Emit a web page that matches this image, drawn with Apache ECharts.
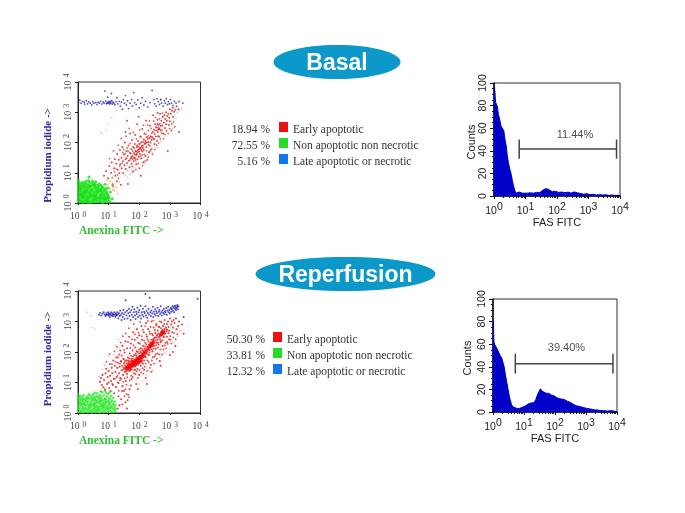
<!DOCTYPE html>
<html>
<head>
<meta charset="utf-8">
<script src="https://cdn.jsdelivr.net/npm/echarts@6/dist/echarts.min.js"></script>
<style>
html,body{margin:0;padding:0;background:#fff}
#main{width:685px;height:513px}
</style>
</head>
<body>
<div id="main"></div>
<script>
// all scatter and histogram x/y are in decades (10^n)
var logMinorTicks = [.3,.48,.6,.7,.78,.85,.9,.95,1.3,1.48,1.6,1.7,1.78,1.85,1.9,1.95,2.3,2.48,2.6,2.7,2.78,2.85,2.9,2.95,3.3,3.48,3.6,3.7,3.78,3.85,3.9,3.95];

var legendLabels = ['Early apoptotic', 'Non apoptotic non necrotic', 'Late apoptotic or necrotic'];
var basalPct = ['18.94 %', '72.55 %', '5.16 %'];
var reperfPct = ['50.30 %', '33.81 %', '12.32 %'];
var basalMarker = [[.8,33],[.8,50],[.8,41.5],[3.89,41.5],[3.89,50],[3.89,33]];
var reperfMarker = [[.72,34],[.72,51.5],[.72,42.8],[3.87,42.8],[3.87,51.5],[3.87,34]];

var basalHist = [[0,0],[.01,97],[.03,92],[.05,83],[.08,84],[.11,79],[.14,72],[.18,68],[.22,62],[.27,62],[.31,58],[.35,50],[.39,44],[.42,36],[.46,29],[.5,24],[.54,20],[.58,14],[.62,9],[.66,5],[.7,2.5],[.75,2],[.8,3.5],[.84,2],[.9,2.5],[.96,1.8],[1.05,2.5],[1.15,2.8],[1.25,2.5],[1.35,3.2],[1.45,3],[1.52,4.5],[1.58,5.5],[1.63,6.5],[1.67,8],[1.72,6],[1.78,5],[1.85,3.8],[1.95,4.2],[2.05,3.2],[2.15,3.5],[2.25,3],[2.35,3.4],[2.45,2.6],[2.55,3.6],[2.65,2.8],[2.75,2.2],[2.85,1.6],[2.95,2],[3.05,1.2],[3.15,1.5],[3.25,.9],[3.35,1.2],[3.45,.8],[3.55,1.1],[3.65,.5],[3.75,.9],[3.85,.4],[3.95,.7],[4,0]];
var reperfHist = [[0,0],[.01,80],[.03,62],[.05,60],[.09,58],[.13,56],[.18,53],[.23,50],[.28,48],[.32,44],[.36,40],[.4,33],[.44,27],[.48,21],[.52,15],[.56,10],[.6,6.5],[.65,4.5],[.7,3.5],[.78,3],[.85,3.2],[.93,4],[1,4.8],[1.08,6],[1.16,7.5],[1.24,8],[1.32,8.2],[1.38,11],[1.43,15],[1.48,18],[1.53,20.5],[1.58,18.5],[1.64,17],[1.72,16.5],[1.8,16.5],[1.88,15],[1.96,14.5],[2.04,13],[2.12,12],[2.2,11.5],[2.3,11],[2.4,9.5],[2.5,8.5],[2.58,7],[2.68,5.5],[2.78,5],[2.9,4],[3.02,3.2],[3.15,2.6],[3.28,2],[3.42,1.5],[3.56,1.2],[3.7,.9],[3.85,1.2],[3.95,.5],[4,0]];

var basalGreen = [[.01,.05],[.02,.14],[.01,.23],[.03,.31],[.01,.42],[.02,.53],[.01,.64],[.02,.74],[.06,.03],[.07,.11],[.05,.2],[.08,.27],[.06,.36],[.09,.46],[.07,.57],[.06,.66],[.11,.06],[.13,.16],[.12,.24],[.14,.33],[.11,.41],[.13,.5],[.12,.59],[.17,.02],[.18,.1],[.16,.18],[.19,.29],[.17,.38],[.2,.47],[.18,.55],[.16,.63],[.23,.06],[.24,.14],[.22,.23],[.25,.32],[.23,.41],[.26,.52],[.24,.6],[.29,.03],[.31,.11],[.28,.19],[.3,.27],[.33,.36],[.29,.44],[.32,.54],[.3,.63],[.36,.07],[.35,.15],[.38,.24],[.36,.33],[.39,.42],[.37,.5],[.35,.59],[.38,.69],[.42,.02],[.44,.1],[.41,.18],[.45,.29],[.43,.37],[.46,.47],[.42,.56],[.45,.64],[.49,.06],[.5,.15],[.48,.22],[.52,.31],[.5,.4],[.53,.49],[.49,.58],[.51,.66],[.56,.03],[.57,.12],[.55,.2],[.58,.27],[.56,.36],[.59,.45],[.57,.54],[.55,.62],[.62,.07],[.64,.16],[.61,.25],[.63,.33],[.65,.41],[.62,.51],[.64,.6],[.68,.03],[.7,.1],[.67,.19],[.71,.28],[.69,.37],[.72,.46],[.68,.55],[.7,.63],[.75,.06],[.76,.15],[.74,.23],[.77,.32],[.75,.41],[.78,.5],[.76,.58],[.81,.02],[.83,.11],[.8,.19],[.84,.27],[.82,.36],[.85,.45],[.81,.53],[.88,.06],[.89,.14],[.87,.23],[.9,.31],[.88,.4],[.91,.48],[.94,.04],[.95,.12],[.93,.2],[.96,.29],[.94,.37],[1,.08],[1.02,.17],[.99,.26],[1.04,.03],[.26,.72],[.14,.68],[.34,.74],[.47,.73],[.22,.68],[.58,.7],[.12,.04],[.34,.02],[.4,.3],[.15,.25],[.27,.38],[.6,.15],[.72,.16],[.53,.22],[.21,.35],[.08,.5],[.44,.45],[.33,.2],[.66,.48],[.79,.27],[.86,.16],[.97,.18],[.28,.1],[.2,.56],[.11,.3],[.05,.45],[.43,.26],[.52,.1],[.74,.41],[.62,.38],[.39,.55],[.18,.2],[.3,.46],[.54,.58],[.36,.86],[.88,.62],[1.06,.36],[.98,.5],[1.12,.14]];
var basalRed = [[.85,.9],[.92,1.05],[.98,.82],[1.02,1.22],[1.08,1.0],[1.1,1.34],[1.13,.62],[1.15,.55],[1.18,1.15],[1.2,1.45],[1.22,.9],[1.25,1.3],[1.27,.72],[1.28,1.62],[1.3,1.1],[1.33,1.43],[1.35,.98],[1.37,1.75],[1.38,1.28],[1.4,.6],[1.42,1.5],[1.43,1.15],[1.45,1.85],[1.47,1.38],[1.48,.98],[1.5,1.6],[1.52,1.25],[1.53,2.0],[1.55,1.45],[1.56,1.12],[1.58,1.72],[1.6,1.32],[1.6,2.72],[1.62,1.55],[1.63,.63],[1.65,1.9],[1.66,1.4],[1.68,1.18],[1.7,1.65],[1.7,2.3],[1.72,1.48],[1.74,1.78],[1.75,1.3],[1.76,2.08],[1.78,1.55],[1.8,1.05],[1.8,1.85],[1.82,1.38],[1.83,1.65],[1.85,1.95],[1.86,1.48],[1.87,2.25],[1.88,1.72],[1.9,1.28],[1.9,1.58],[1.92,1.85],[1.93,2.6],[1.94,1.45],[1.95,1.68],[1.96,2.05],[1.98,1.52],[1.99,1.78],[2.0,1.15],[2.0,1.95],[2.02,1.62],[2.03,2.2],[2.05,1.82],[2.05,.9],[2.07,1.48],[2.08,2.02],[2.1,1.7],[2.1,2.45],[2.12,1.9],[2.13,1.35],[2.15,2.1],[2.15,1.75],[2.17,2.3],[2.18,1.95],[2.2,1.55],[2.2,2.05],[2.22,2.72],[2.23,1.85],[2.25,2.18],[2.26,1.42],[2.28,2.12],[2.3,1.92],[2.3,2.4],[2.32,1.68],[2.34,2.15],[2.35,2.55],[2.37,2.0],[2.38,2.2],[2.4,1.78],[2.42,2.18],[2.44,2.35],[2.45,2.9],[2.46,2.12],[2.48,2.42],[2.5,1.95],[2.5,2.28],[2.52,2.6],[2.54,2.2],[2.55,2.4],[2.57,2.5],[2.58,2.05],[2.6,2.35],[2.6,2.75],[2.62,2.58],[2.64,2.48],[2.65,2.2],[2.67,2.62],[2.68,2.95],[2.7,2.4],[2.72,2.72],[2.75,2.55],[2.77,2.85],[2.78,2.3],[2.8,2.65],[2.82,2.9],[2.84,2.48],[2.85,2.78],[2.87,3.0],[2.88,2.6],[2.9,2.72],[2.92,2.88],[2.93,1.72],[2.95,2.95],[2.96,2.58],[2.98,2.82],[3.0,3.1],[3.0,2.7],[3.03,2.95],[3.05,2.4],[3.07,3.05],[3.1,3.15],[3.1,2.85],[3.14,3.02],[3.18,3.08],[3.22,3.2],[3.28,3.1],[3.3,2.35],[1.98,2.85],[2.6,2.98],[1.55,2.35],[1.9,1.7],[2.0,1.7],[2.02,1.82],[2.07,1.75],[1.85,1.6],[1.92,1.62],[1.96,1.75],[2.08,1.88],[2.12,1.82],[1.78,1.45],[1.83,1.5],[1.75,1.52],[2.2,1.98],[2.25,2.0],[2.3,2.02],[2.4,2.08],[2.62,2.42],[2.66,2.45],[2.7,2.55]];
var basalRedWide = [[1.03,1.47],[1.16,1.72],[1.31,1.91],[1.41,2.13],[1.46,1.67],[1.57,2.21],[1.61,1.82],[1.67,2.47],[1.71,1.97],[1.77,1.21],[1.81,2.33],[1.89,1.11],[1.91,2.12],[1.97,1.31],[2.01,2.41],[2.06,2.18],[2.11,1.23],[2.14,2.57],[2.19,1.38],[2.21,2.27],[2.27,2.58],[2.29,1.52],[2.33,2.71],[2.36,1.72],[2.39,2.47],[2.43,1.63],[2.47,2.71],[2.51,1.77],[2.53,2.83],[2.56,1.91],[2.59,2.62],[2.63,1.98],[2.66,2.79],[2.69,2.12],[2.73,2.31],[2.76,2.97],[2.79,2.13],[2.83,2.27],[2.89,2.38],[2.94,2.3],[2.99,2.46],[3.06,2.62],[3.12,2.68],[3.16,2.52],[1.24,1.12],[1.36,1.23],[1.44,1.31],[1.49,1.77],[1.54,1.63],[1.59,1.48],[1.64,1.71],[1.69,1.42],[1.73,1.63],[1.79,1.72],[1.84,1.81],[1.88,1.42],[1.93,1.91],[1.97,1.87],[2.03,1.55],[2.04,1.97],[2.09,1.59],[2.13,2.01],[2.16,1.61],[2.24,1.72],[2.31,2.22],[2.35,1.89],[2.41,2.31],[2.49,2.11],[2.54,2.51],[2.61,2.21],[2.74,2.41],[1.12,.84],[1.19,1.03],[1.29,.93],[1.32,.81]];
var basalOrange = [[.98,.62],[1.05,.72],[1.1,.58],[1.14,.45],[1.18,.4],[1.05,.48],[1.25,.52],[.95,.75],[1.3,.3],[1.35,.7],[1.9,3.1],[1.75,3.2]];
var basalPale = [[.92,2.4],[.98,2.62],[.78,2.3],[.75,2.35],[1.1,2.8],[1.25,3.05],[1.55,.9],[1.62,.85],[1.7,.95],[1.78,1.0],[1.85,1.1],[1.95,1.3],[2.05,1.45],[2.15,1.5],[2.25,1.6],[2.35,1.75],[3.15,2.9],[3.2,2.8],[3.25,2.98],[3.3,3.05],[3.38,3.12],[1.61,1.07],[1.83,1.19],[1.74,1.12],[2.17,1.31],[2.28,1.43],[2.44,1.59],[2.58,1.83],[2.71,2.03],[2.86,2.22],[3.08,2.47]];
var basalBlue = [[.02,3.32],[.06,3.4],[.1,3.3],[.15,3.36],[.2,3.33],[.22,3.27],[.27,3.38],[.31,3.28],[.35,3.34],[.4,3.3],[.45,3.24],[.48,3.35],[.52,3.3],[.58,3.32],[.62,3.26],[.66,3.33],[.7,3.3],[.74,3.36],[.78,3.27],[.82,3.34],[.85,3.3],[.88,3.7],[.9,3.37],[.92,3.28],[.95,3.33],[.97,3.5],[.99,3.3],[1.01,3.36],[1.03,3.27],[1.05,3.33],[1.07,3.3],[1.09,3.62],[1.1,3.38],[1.12,3.27],[1.14,3.33],[1.17,3.3],[1.2,3.25],[1.24,3.35],[1.27,3.48],[1.3,3.28],[1.35,3.36],[1.38,3.2],[1.42,3.33],[1.45,3.1],[1.48,3.42],[1.52,3.3],[1.55,3.55],[1.58,3.24],[1.62,3.38],[1.65,3.12],[1.7,3.3],[1.75,3.42],[1.78,3.2],[1.82,3.65],[1.85,3.32],[1.9,3.26],[1.95,3.4],[2,3.15],[2.05,3.3],[2.1,3.48],[2.15,3.24],[2.2,3.36],[2.28,3.18],[2.35,3.32],[2.42,3.72],[2.48,3.42],[2.5,3.28],[2.55,3.2],[2.58,3.45],[2.62,3.35],[2.66,3.26],[2.7,3.42],[2.73,3.3],[2.78,3.2],[2.82,3.38],[2.85,3.3],[2.88,3.45],[2.92,3.25],[2.95,3.35],[2.98,3.28],[3.02,3.42],[3.05,3.3],[3.1,3.22],[3.15,3.36],[3.2,3.3],[3.3,3.35],[3.42,3.3],[2.7,3.42],[1.02,3.32],[1.06,3.36],[.96,3.3]];

var reperfGreen = [[.01,.04],[.02,.13],[.01,.22],[.03,.31],[.01,.41],[.02,.52],[.01,.62],[.06,.03],[.07,.1],[.05,.18],[.08,.27],[.06,.37],[.09,.46],[.07,.56],[.11,.05],[.13,.15],[.12,.25],[.14,.33],[.11,.42],[.13,.52],[.17,.02],[.18,.12],[.16,.2],[.19,.3],[.17,.39],[.2,.47],[.18,.58],[.24,.06],[.23,.16],[.26,.24],[.22,.34],[.25,.43],[.27,.52],[.31,.03],[.3,.11],[.33,.2],[.29,.29],[.32,.37],[.3,.47],[.34,.57],[.37,.07],[.39,.17],[.36,.26],[.4,.34],[.38,.44],[.41,.53],[.37,.61],[.44,.02],[.46,.12],[.43,.21],[.47,.3],[.45,.39],[.44,.49],[.47,.58],[.51,.06],[.52,.15],[.5,.26],[.54,.33],[.51,.43],[.53,.52],[.5,.62],[.58,.03],[.57,.11],[.6,.2],[.56,.29],[.59,.38],[.57,.47],[.6,.56],[.64,.07],[.66,.16],[.63,.24],[.67,.34],[.64,.42],[.66,.52],[.63,.65],[.7,.02],[.72,.12],[.7,.2],[.73,.3],[.71,.38],[.74,.48],[.71,.58],[.77,.06],[.79,.15],[.76,.25],[.8,.33],[.78,.43],[.76,.53],[.79,.68],[.84,.03],[.85,.11],[.83,.2],[.87,.29],[.84,.38],[.86,.47],[.84,.58],[.91,.07],[.92,.17],[.9,.25],[.93,.34],[.91,.44],[.94,.54],[.92,.66],[.98,.04],[.99,.12],[.97,.22],[1,.3],[.98,.4],[1.01,.5],[.99,.62],[1.05,.07],[1.06,.16],[1.04,.26],[1.07,.35],[1.05,.45],[1.08,.56],[1.11,.03],[1.13,.13],[1.11,.22],[1.14,.31],[1.12,.41],[1.15,.5],[1.18,.08],[1.19,.17],[1.17,.27],[1.2,.37],[1.22,.05],[1.23,.14],[1.22,.25],[.15,.08],[.21,.26],[.28,.38],[.35,.12],[.42,.28],[.48,.46],[.55,.2],[.62,.33],[.68,.1],[.75,.39],[.82,.26],[.89,.46],[.95,.14],[1.02,.36],[1.09,.2],[.1,.32],[.04,.47],[.16,.44],[.33,.49],[.52,.24],[.69,.47],[.85,.19],[1,.18],[.61,.11],[.43,.06],[.25,.14],[.78,.22],[.9,.36],[.55,.43],[.39,.25],[.74,.71],[.88,.72],[1.03,.68],[.56,.66]];
var reperfRed = [[.72,1.02],[.75,1.15],[.78,.92],[.8,1.25],[.83,.84],[.85,1.08],[.88,.78],[.9,1.3],[.92,1.45],[.95,.95],[.97,1.18],[1,1.0],[1,1.38],[1.02,.82],[1.04,1.6],[1.05,1.22],[1.07,.72],[1.08,1.05],[1.1,1.48],[1.12,1.3],[1.14,.92],[1.15,1.72],[1.17,1.12],[1.18,.65],[1.2,1.55],[1.22,1.35],[1.24,.85],[1.25,1.82],[1.26,1.18],[1.28,1.48],[1.3,1.0],[1.3,1.65],[1.32,.55],[1.34,1.3],[1.35,1.92],[1.36,1.52],[1.38,1.15],[1.38,2.05],[1.4,1.7],[1.41,.45],[1.42,1.4],[1.44,1.55],[1.45,.88],[1.45,2.2],[1.47,1.25],[1.48,1.78],[1.49,1.48],[1.5,1.62],[1.5,.72],[1.52,1.98],[1.53,1.35],[1.54,1.55],[1.55,2.35],[1.56,1.05],[1.57,1.72],[1.58,1.5],[1.59,1.62],[1.6,1.28],[1.6,2.12],[1.62,1.55],[1.63,1.82],[1.64,.6],[1.65,1.45],[1.66,1.7],[1.67,2.5],[1.68,1.58],[1.69,1.95],[1.7,1.38],[1.7,1.68],[1.72,1.55],[1.73,2.28],[1.74,1.78],[1.75,1.12],[1.75,1.62],[1.77,1.7],[1.78,2.05],[1.79,1.52],[1.8,1.85],[1.8,2.65],[1.81,1.62],[1.82,1.72],[1.83,1.3],[1.84,1.9],[1.85,2.4],[1.85,1.68],[1.86,1.55],[1.87,2.15],[1.88,1.78],[1.89,1.65],[1.9,.95],[1.9,1.88],[1.91,1.72],[1.92,2.75],[1.93,1.82],[1.94,1.45],[1.95,2.0],[1.95,1.75],[1.96,1.65],[1.97,2.3],[1.98,1.85],[1.99,1.78],[2,1.25],[2,1.95],[2,2.55],[2.02,1.88],[2.03,1.72],[2.04,2.12],[2.05,1.82],[2.05,1.55],[2.06,1.98],[2.07,2.85],[2.08,1.9],[2.09,2.4],[2.1,1.78],[2.1,2.05],[2.11,1.95],[2.12,1.62],[2.13,2.2],[2.14,1.9],[2.15,2.02],[2.15,2.65],[2.16,1.42],[2.17,1.98],[2.18,2.1],[2.19,1.85],[2.2,2.3],[2.2,2.05],[2.21,1.15],[2.22,2.95],[2.23,1.95],[2.24,2.15],[2.25,2.5],[2.26,2.02],[2.27,1.72],[2.28,2.18],[2.29,2.75],[2.3,2.1],[2.3,2.35],[2.32,1.9],[2.33,2.22],[2.34,2.05],[2.35,2.6],[2.36,2.28],[2.37,2.15],[2.38,1.58],[2.39,2.4],[2.4,2.18],[2.4,3.0],[2.42,2.3],[2.43,2.02],[2.44,2.55],[2.45,2.25],[2.46,2.38],[2.47,2.8],[2.48,2.2],[2.49,2.45],[2.5,2.3],[2.5,1.85],[2.52,2.62],[2.53,2.38],[2.54,2.1],[2.55,2.48],[2.56,2.92],[2.57,2.3],[2.58,2.55],[2.59,1.95],[2.6,2.4],[2.6,2.7],[2.62,2.48],[2.63,2.25],[2.64,2.6],[2.65,2.82],[2.66,2.5],[2.67,1.7],[2.68,2.42],[2.7,2.65],[2.71,2.35],[2.72,2.98],[2.73,2.55],[2.75,2.72],[2.76,2.2],[2.77,2.62],[2.78,2.85],[2.8,2.48],[2.81,2.68],[2.82,2.75],[2.83,3.05],[2.85,2.6],[2.86,2.3],[2.87,2.8],[2.88,2.68],[2.9,2.92],[2.9,2.5],[2.92,2.72],[2.94,3.0],[2.95,2.62],[2.96,2.82],[2.98,2.7],[3,3.1],[3.02,2.4],[3.04,2.9],[3.06,3.0],[3.08,2.65],[3.1,2.8],[3.12,3.05],[3.15,2.95],[3.18,2.2],[3.2,3.1],[3.22,2.75],[3.27,2.85],[3.3,3.0],[3.4,2.9],[3.45,2.6],[1.35,.25],[1.45,.28],[1.55,.35],[1.6,.15],[1.3,.15],[1.68,.78],[1.72,.9],[1.95,.78],[2.25,.95],[2.4,1.35],[2.7,1.55],[3,1.9],[3.1,2.0]];
var reperfRedWide = [[.93,1.68],[1.03,1.93],[1.11,1.61],[1.19,2.02],[1.23,1.68],[1.27,2.17],[1.31,1.83],[1.33,.73],[1.37,1.07],[1.39,2.31],[1.43,1.88],[1.46,2.52],[1.51,2.07],[1.53,1.13],[1.56,2.61],[1.58,.93],[1.61,1.17],[1.63,2.33],[1.66,2.78],[1.69,1.07],[1.71,2.13],[1.74,1.22],[1.76,2.42],[1.79,1.18],[1.81,2.22],[1.82,2.92],[1.84,1.41],[1.86,2.58],[1.88,1.27],[1.91,2.03],[1.92,1.37],[1.94,2.47],[1.96,1.15],[1.98,2.63],[2.01,1.42],[2.02,2.27],[2.03,2.98],[2.06,1.33],[2.08,2.52],[2.11,1.47],[2.12,2.73],[2.14,1.29],[2.16,2.38],[2.18,1.52],[2.19,2.85],[2.21,1.62],[2.23,2.57],[2.26,1.38],[2.27,2.42],[2.28,3.02],[2.31,1.67],[2.33,2.67],[2.35,1.48],[2.37,2.82],[2.41,1.72],[2.42,2.6],[2.44,1.83],[2.46,3.03],[2.48,1.62],[2.51,2.72],[2.53,1.92],[2.55,2.87],[2.57,1.78],[2.61,2.15],[2.63,2.83],[2.65,1.92],[2.67,3.0],[2.69,2.08],[2.71,2.78],[2.74,1.92],[2.76,2.38],[2.79,2.08],[2.81,2.92],[2.84,2.22],[2.88,2.12],[2.91,2.33],[2.93,2.27],[2.97,2.42],[3.01,2.52],[3.05,2.28],[3.11,2.48],[3.14,2.62],[3.19,2.42],[3.24,2.58],[1.37,1.62],[1.42,1.68],[1.47,1.42],[1.51,1.75],[1.53,1.68],[1.57,1.35],[1.61,1.72],[1.64,1.38],[1.67,1.78],[1.71,1.47],[1.73,1.88],[1.76,1.42],[1.78,1.78],[1.81,1.52],[1.84,1.75],[1.87,1.42],[1.89,1.95],[1.92,1.58],[1.93,2.02],[1.97,1.58],[1.99,2.08],[2.01,1.62],[2.03,2.02],[2.07,1.68],[2.09,2.12],[2.11,1.72],[2.13,2.05],[2.17,1.72],[2.19,2.18],[2.21,1.82],[2.23,2.25],[2.27,1.92],[2.31,2.25],[2.33,1.98],[2.37,2.32],[2.41,2.08],[2.45,2.42],[2.47,2.12],[2.51,2.48],[2.55,2.22],[2.59,2.58],[2.61,2.32],[2.67,2.55],[2.69,2.32],[2.73,2.68],[2.79,2.52],[2.83,2.62],[2.89,2.75],[1.12,.95],[1.21,1.12],[1.29,1.22],[1.33,.98],[1.41,1.12],[1.44,.72],[1.48,1.02],[1.52,.55],[1.55,.78],[1.58,.62],[1.62,.42],[1.67,.52]];
var reperfCore = [[1.55,1.45],[1.58,1.5],[1.6,1.42],[1.62,1.5],[1.64,1.55],[1.66,1.48],[1.68,1.52],[1.7,1.58],[1.72,1.5],[1.74,1.6],[1.76,1.55],[1.78,1.62],[1.8,1.58],[1.82,1.66],[1.84,1.62],[1.86,1.7],[1.88,1.66],[1.9,1.74],[1.92,1.7],[1.94,1.78],[1.96,1.72],[1.98,1.8],[2,1.76],[2.02,1.84],[2.04,1.78],[2.06,1.86],[2.08,1.82],[2.1,1.9],[2.12,1.85],[2.14,1.94],[2.16,1.88],[2.18,1.98],[2,1.68],[1.9,1.6],[2.05,1.7],[1.85,1.55],[1.7,1.45],[2.32,2.12],[2.34,2.18],[2.36,2.2],[2.38,2.24],[2.4,2.28],[2.42,2.22],[2.44,2.3],[2.46,2.34],[2.7,2.55],[2.72,2.6],[2.74,2.58],[2.76,2.64],[2.78,2.68],[2.8,2.62],[1.95,1.65],[1.75,1.7],[1.65,1.62],[2.22,2.0],[2.26,2.08]];
var reperfPale = [[.45,2.8],[.3,3.3],[.55,2.75],[1.3,2.0],[1.0,1.85],[.85,1.6],[1.18,1.92],[2.0,.95],[2.1,1.05],[1.9,1.1],[2.45,1.4],[2.8,1.95],[3.0,2.1],[3.25,2.5],[3.35,2.7],[.42,3.2],[3.6,2.85],[.8,1.42],[.88,1.55],[.69,1.2],[1.22,2.22],[1.31,2.42],[2.23,1.25],[2.33,1.38],[2.56,1.62],[2.68,1.82],[2.87,2.0],[3.12,2.3],[3.3,2.7]];
var reperfBlue = [[.68,3.22],[.72,3.28],[.76,3.2],[.8,3.26],[.84,3.3],[.87,3.23],[.9,3.18],[.93,3.27],[.95,3.22],[.98,3.3],[1,3.2],[1.02,3.26],[1.04,3.15],[1.06,3.24],[1.08,3.3],[1.1,3.2],[1.12,3.26],[1.14,3.17],[1.16,3.24],[1.18,3.3],[1.2,3.22],[1.22,3.15],[1.24,3.26],[1.26,3.2],[1.28,3.3],[1.3,3.23],[1.32,3.1],[1.34,3.27],[1.36,3.18],[1.38,3.35],[1.4,3.22],[1.42,3.05],[1.44,3.28],[1.46,3.15],[1.48,3.38],[1.5,3.24],[1.52,3.08],[1.54,3.3],[1.56,3.7],[1.58,3.2],[1.6,3.35],[1.62,3.1],[1.64,3.27],[1.66,3.42],[1.68,3.18],[1.7,3.3],[1.72,3.05],[1.74,3.38],[1.76,3.22],[1.78,3.48],[1.8,3.14],[1.82,3.3],[1.84,3.4],[1.86,3.2],[1.88,3.08],[1.9,3.32],[1.92,3.25],[1.94,3.45],[1.96,3.15],[1.98,3.3],[2,3.38],[2.02,3.2],[2.04,3.52],[2.06,3.1],[2.08,3.3],[2.1,3.22],[2.12,3.42],[2.14,3.16],[2.16,3.32],[2.18,3.28],[2.2,3.5],[2.22,3.2],[2.24,3.35],[2.26,3.12],[2.28,3.28],[2.3,3.42],[2.32,3.22],[2.34,3.78],[2.36,3.3],[2.38,3.18],[2.4,3.36],[2.42,3.26],[2.44,3.48],[2.46,3.15],[2.48,3.32],[2.5,3.25],[2.52,3.4],[2.54,3.2],[2.56,3.34],[2.58,3.28],[2.6,3.45],[2.62,3.18],[2.64,3.32],[2.66,3.38],[2.68,3.25],[2.7,3.5],[2.72,3.3],[2.74,3.2],[2.76,3.36],[2.78,3.28],[2.8,3.42],[2.82,3.25],[2.84,3.34],[2.86,3.3],[2.88,3.44],[2.9,3.22],[2.92,3.36],[2.94,3.48],[2.96,3.3],[2.98,3.38],[3,3.26],[3.02,3.44],[3.04,3.32],[3.06,3.4],[3.08,3.5],[3.1,3.35],[3.12,3.46],[3.14,3.3],[3.16,3.42],[3.18,3.52],[3.2,3.38],[3.22,3.46],[3.24,3.54],[3.26,3.4],[3.28,3.5],[3.2,3.44],[3.25,3.48],[3.15,3.5],[3.05,3.42],[1.0,3.24],[1.05,3.22],[1.15,3.22],[1.25,3.22],[.92,3.22],[3.45,3.15],[2.2,3.9],[3.9,3.75]];

function decadeLabel(v) {
  return '{b|10}{s|' + v + '}';
}

function scatterAxes(gridIdx, xShift, yShift) {
  function lab(size) {
    return {
      rich: {
        b: { fontFamily: 'Liberation Serif', fontSize: size, color: '#444' },
        s: { fontFamily: 'Liberation Serif', fontSize: size - 2, color: '#444', padding: [0, 0, 3, 3] }
      },
      formatter: decadeLabel
    };
  }
  return {
    x: {
      type: 'value', gridIndex: gridIdx, min: 0, max: 4, interval: 1,
      splitLine: { show: false },
      axisLine: { lineStyle: { color: '#222', width: 1 } },
      axisTick: { length: 2, lineStyle: { color: '#222' } },
      axisLabel: Object.assign({ margin: 8 }, lab(9.5)),
      name: 'Anexina FITC ->', nameLocation: 'middle', nameGap: 22,
      nameTextStyle: { fontFamily: 'Liberation Serif', fontWeight: 'bold', fontSize: 11.5, color: '#33bb33', padding: [0, xShift, 0, 0] }
    },
    y: {
      type: 'value', gridIndex: gridIdx, min: 0, max: 4, interval: 1,
      splitLine: { show: false },
      axisLine: { lineStyle: { color: '#222', width: 1 } },
      axisTick: { length: 3, lineStyle: { color: '#222' } },
      axisLabel: Object.assign({ rotate: 90, margin: 4 }, lab(10)),
      name: 'Propidium iodide ->', nameLocation: 'middle', nameGap: 24,
      nameTextStyle: { fontFamily: 'Liberation Serif', fontWeight: 'bold', fontSize: 11, color: '#2a2aa8', padding: [0, yShift, 0, 0] }
    }
  };
}

function histAxes(gridIdx, countsGap) {
  var rich = {
    b: { fontFamily: 'Liberation Sans', fontSize: 10.5, color: '#222' },
    s: { fontFamily: 'Liberation Sans', fontSize: 10.5, color: '#222', padding: [0, 0, 7, 0] }
  };
  return {
    x: {
      type: 'value', gridIndex: gridIdx, min: 0, max: 4, interval: 1,
      splitLine: { show: false },
      axisLine: { lineStyle: { color: '#111', width: 1.5 } },
      axisTick: { length: 3, lineStyle: { color: '#111', width: 1 } },
      axisLabel: { margin: 6, rich: rich, formatter: decadeLabel },
      name: 'FAS FITC', nameLocation: 'middle', nameGap: 21,
      nameTextStyle: { fontFamily: 'Liberation Sans', fontSize: 11, color: '#222' }
    },
    xMinor: {
      type: 'value', gridIndex: gridIdx, min: 0, max: 4, position: 'bottom',
      splitLine: { show: false }, axisLine: { show: false }, axisLabel: { show: false },
      axisTick: { length: 2, customValues: logMinorTicks, lineStyle: { color: '#111' } }
    },
    y: {
      type: 'value', gridIndex: gridIdx, min: 0, max: 100, interval: 20,
      splitLine: { show: false },
      axisLine: { lineStyle: { color: '#111', width: 1.5 } },
      axisTick: { length: 4, lineStyle: { color: '#111', width: 1 } },
      minorTick: { show: true, splitNumber: 4, length: 2, lineStyle: { color: '#111' } },
      axisLabel: { rotate: 90, margin: 5, fontFamily: 'Liberation Sans', fontSize: 10.5, color: '#222' },
      name: 'Counts', nameLocation: 'middle', nameGap: countsGap,
      nameTextStyle: { fontFamily: 'Liberation Sans', fontSize: 11, color: '#222', padding: [0, 5, 0, 0] }
    }
  };
}

var grids = [
  { left: 78, top: 82, width: 122.5, height: 121 },
  { left: 78, top: 291, width: 122.5, height: 122 },
  { left: 494, top: 83, width: 126, height: 113 },
  { left: 493, top: 299, width: 124, height: 113 }
].map(function (g) {
  return Object.assign({ show: true, borderColor: '#333', borderWidth: 1, backgroundColor: '#fff' }, g);
});

var a0 = scatterAxes(0, 36, 26), a1 = scatterAxes(1, 36, 14), h2 = histAxes(2, 17), h3 = histAxes(3, 20);

function dots(name, xIdx, yIdx, data, color, size) {
  return {
    name: name, type: 'scatter', xAxisIndex: xIdx, yAxisIndex: yIdx, data: data,
    symbolSize: size, silent: true, animation: false,
    itemStyle: { color: color }
  };
}

function histSeries(xIdx, yIdx, data) {
  return {
    type: 'line', xAxisIndex: xIdx, yAxisIndex: yIdx, data: data, showSymbol: false, animation: false,
    lineStyle: { color: '#0000c0', width: 1 }, areaStyle: { color: '#0000c8', opacity: 1 }
  };
}

function marker(xIdx, yIdx, data) {
  return {
    type: 'line', xAxisIndex: xIdx, yAxisIndex: yIdx, data: data, showSymbol: false, animation: false,
    lineStyle: { color: '#444', width: 1.5 }
  };
}

function pctLabel(xIdx, yIdx, pos, text) {
  return {
    type: 'scatter', xAxisIndex: xIdx, yAxisIndex: yIdx, data: [pos], symbolSize: 0, animation: false,
    label: { show: true, position: 'inside', formatter: text, fontFamily: 'Liberation Sans', fontSize: 11, color: '#222' }
  };
}

var legendColors = ['#ee1111', '#22dd22', '#1177ee'];

function legendBlock(pct, rowY, pctRight, squareLeft, textLeft) {
  var out = [];
  for (var i = 0; i < 3; i++) {
    out.push({ type: 'text', x: pctRight, y: rowY[i] + 1, style: { text: pct[i], textAlign: 'right', textVerticalAlign: 'middle', fontFamily: 'Liberation Serif', fontSize: 11.5, fill: '#333' } });
    out.push({ type: 'rect', shape: { x: squareLeft, y: rowY[i] - 7, width: 9, height: 10 }, style: { fill: legendColors[i] } });
    out.push({ type: 'text', x: textLeft, y: rowY[i] + 1, style: { text: legendLabels[i], textAlign: 'left', textVerticalAlign: 'middle', fontFamily: 'Liberation Serif', fontSize: 11.5, fill: '#333' } });
  }
  return out;
}

function pill(cx, cy, rx, ry, text, size) {
  return [
    { type: 'ellipse', shape: { cx: cx, cy: cy, rx: rx, ry: ry }, style: { fill: '#0c98c8' } },
    { type: 'text', x: cx, y: cy + 2, style: { text: text, textAlign: 'center', textVerticalAlign: 'middle', fontFamily: 'Liberation Sans', fontWeight: 'bold', fontSize: size, fill: '#fff' } }
  ];
}

var chart = echarts.init(document.getElementById('main'), null, { width: 685, height: 513 });

var option = {
  animation: false,
  backgroundColor: '#fff',
  grid: grids,
  xAxis: [a0.x, a1.x, h2.x, h3.x, h2.xMinor, h3.xMinor],
  yAxis: [a0.y, a1.y, h2.y, h3.y],
  series: [
    dots('basal late', 0, 0, basalBlue, '#2828b0', 1.8),
    dots('basal pale', 0, 0, basalPale, '#e8a0a0', 1.5),
    dots('basal early', 0, 0, basalRed, '#d81818', 2),
    dots('basal early wide', 0, 0, basalRedWide, '#dc3030', 1.8),
    dots('basal mixed', 0, 0, basalOrange, '#eeaa33', 1.7),
    dots('basal viable', 0, 0, basalGreen, '#12e012', 3),
    dots('reperf late', 1, 1, reperfBlue, '#2020b8', 2),
    dots('reperf pale', 1, 1, reperfPale, '#e8a0a0', 1.5),
    dots('reperf early', 1, 1, reperfRed, '#e01414', 2.1),
    dots('reperf early wide', 1, 1, reperfRedWide, '#e02222', 1.9),
    dots('reperf core', 1, 1, reperfCore, '#f00808', 3),
    dots('reperf viable', 1, 1, reperfGreen, '#2ce82c', 2.6),
    histSeries(2, 2, basalHist),
    histSeries(3, 3, reperfHist),
    marker(2, 2, basalMarker),
    marker(3, 3, reperfMarker),
    pctLabel(2, 2, [2.57, 54], '11.44%'),
    pctLabel(3, 3, [2.37, 57], '39.40%')
  ],
  graphic: [].concat(
    pill(337, 62, 63.5, 17, 'Basal', 23),
    pill(345.5, 274, 90, 17, 'Reperfusion', 23),
    legendBlock(basalPct, [129, 145, 161], 270, 279, 293),
    legendBlock(reperfPct, [339, 355, 371], 265, 273, 287)
  )
};

chart.setOption(option);
</script>
</body>
</html>
